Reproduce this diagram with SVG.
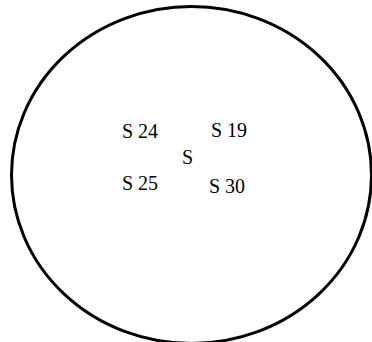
<svg xmlns="http://www.w3.org/2000/svg" width="372" height="342" viewBox="0 0 372 342">
<style>
.lbl{font-family:"Liberation Serif","Times New Roman",serif;font-size:20px;fill:#000}
.outline{fill:none;stroke:#000;stroke-width:3}
</style>
<rect width="372" height="342" fill="#fff"/>
<g id="boundary"><ellipse class="outline" cx="191.5" cy="175" rx="180" ry="168.5"/></g>
<g id="connectors"></g>
<g id="n-s24"><text class="lbl" x="122" y="138">S 24</text></g>
<g id="n-s19"><text class="lbl" x="211" y="137">S 19</text></g>
<g id="n-s"><text class="lbl" x="182" y="164">S</text></g>
<g id="n-s25"><text class="lbl" x="122" y="190">S 25</text></g>
<g id="n-s30"><text class="lbl" x="209" y="193">S 30</text></g>
</svg>
